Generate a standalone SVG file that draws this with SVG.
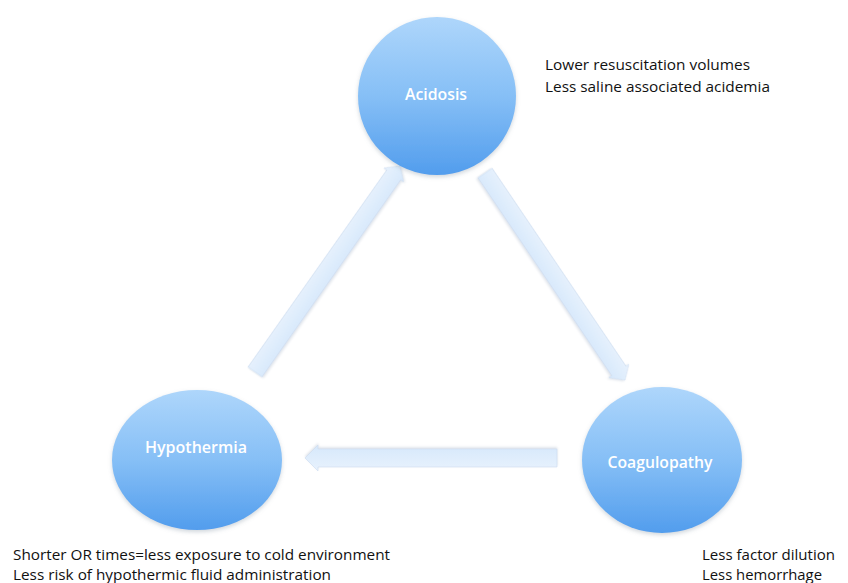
<svg xmlns="http://www.w3.org/2000/svg" width="848" height="583" viewBox="0 0 848 583">
<style>
.lbl{font-family:"Open Sans","Liberation Sans",sans-serif;font-size:16px;font-weight:600;fill:#ffffff;text-anchor:middle}
.note{font-family:"Open Sans","Liberation Sans",sans-serif;font-size:14.5px;fill:#111111}
.circ{fill:url(#cg);filter:url(#sh)}
.arr{fill:url(#ag);stroke:#cddcf0;stroke-width:0.6;filter:url(#ash)}
</style>
<defs>
<linearGradient id="cg" x1="0" y1="0" x2="0" y2="1">
<stop offset="0" stop-color="#aed6fb"/>
<stop offset="0.5" stop-color="#86bff6"/>
<stop offset="1" stop-color="#529ded"/>
</linearGradient>
<linearGradient id="ag" x1="0" y1="0" x2="0" y2="1">
<stop offset="0" stop-color="#e8f2fd"/>
<stop offset="1" stop-color="#d6e8fb"/>
</linearGradient>
<filter id="sh" x="-20%" y="-20%" width="140%" height="150%">
<feDropShadow dx="0" dy="2" stdDeviation="2" flood-color="#7a8a9a" flood-opacity="0.35"/>
</filter>
<filter id="ash" x="-10%" y="-50%" width="120%" height="200%">
<feDropShadow dx="0" dy="1.5" stdDeviation="1" flood-color="#9aaac0" flood-opacity="0.35"/>
</filter>
</defs>
<rect width="848" height="583" fill="#ffffff"/>
<g id="connectors">
<path class="arr" transform="translate(255,372) rotate(-54.85)" d="M0,-8.5 L241,-8.5 L241,-12 L252,0 L241,12 L241,8.5 L0,8.5 Z"/>
<path class="arr" transform="translate(485,173) rotate(55.93)" d="M0,-8.5 L239,-8.5 L239,-12 L250,0 L239,12 L239,8.5 L0,8.5 Z"/>
<path class="arr" transform="translate(557,458) rotate(180)" d="M0,-9 L239,-9 L239,-13 L252,0 L239,13 L239,9 L0,9 Z"/>
</g>
<g id="acidosis">
<ellipse class="circ" cx="437" cy="96" rx="79" ry="79"/>
<text class="lbl" x="436" y="100" textLength="62" lengthAdjust="spacingAndGlyphs">Acidosis</text>
</g>
<g id="hypothermia">
<ellipse class="circ" cx="197" cy="460" rx="85" ry="70"/>
<text class="lbl" x="196" y="453" textLength="102" lengthAdjust="spacingAndGlyphs">Hypothermia</text>
</g>
<g id="coagulopathy">
<ellipse class="circ" cx="662" cy="460" rx="80" ry="73"/>
<text class="lbl" x="660" y="468" textLength="105" lengthAdjust="spacingAndGlyphs">Coagulopathy</text>
</g>
<g id="notes">
<text class="note" x="545" y="70" textLength="205" lengthAdjust="spacingAndGlyphs">Lower resuscitation volumes</text>
<text class="note" x="545" y="92" textLength="225" lengthAdjust="spacingAndGlyphs">Less saline associated acidemia</text>
<text class="note" x="13" y="560" textLength="377" lengthAdjust="spacingAndGlyphs">Shorter OR times=less exposure to cold environment</text>
<text class="note" x="13" y="580" textLength="318" lengthAdjust="spacingAndGlyphs">Less risk of hypothermic fluid administration</text>
<text class="note" x="702" y="560" textLength="133" lengthAdjust="spacingAndGlyphs">Less factor dilution</text>
<text class="note" x="702" y="580" textLength="120" lengthAdjust="spacingAndGlyphs">Less hemorrhage</text>
</g>
</svg>
